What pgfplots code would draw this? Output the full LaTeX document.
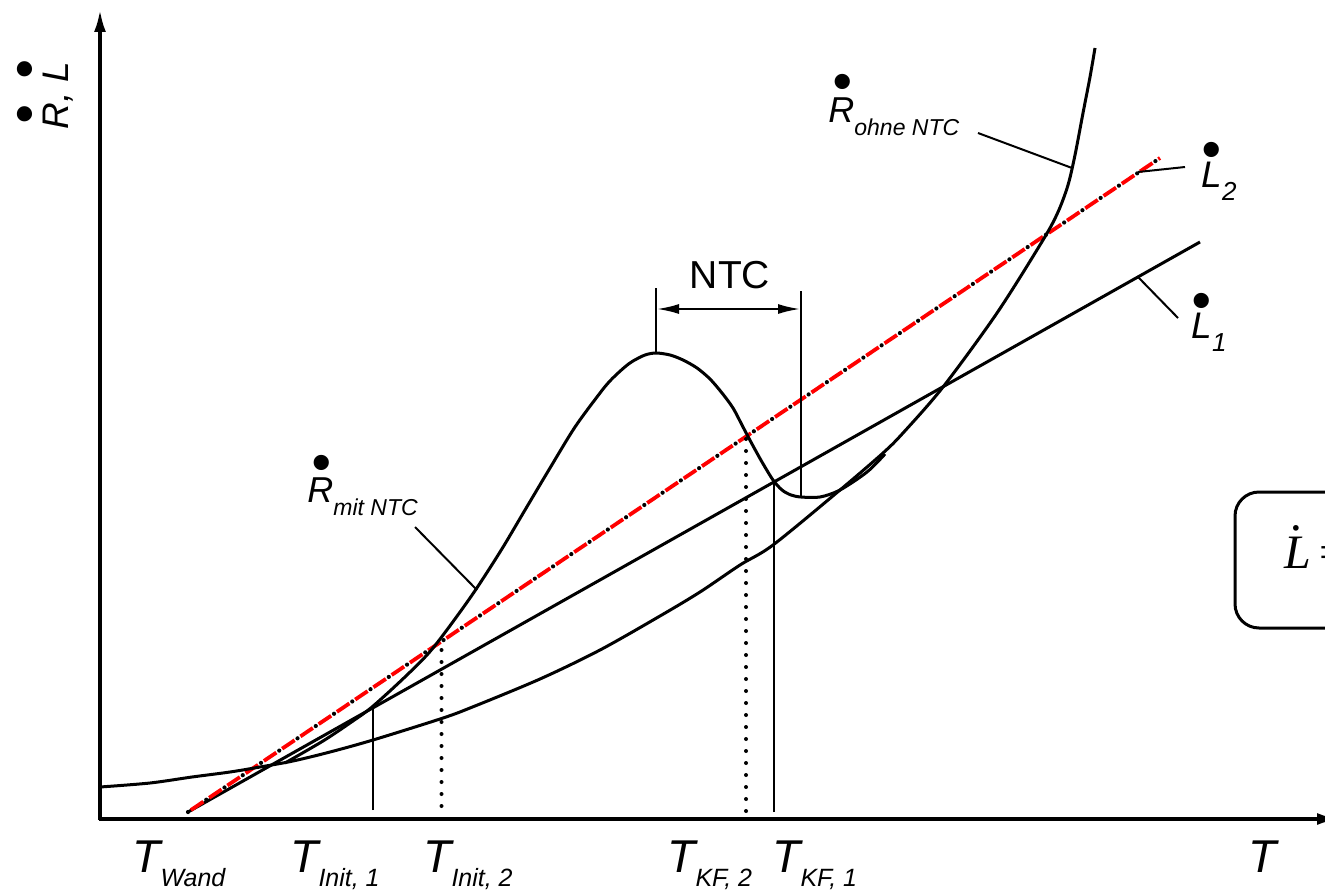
\documentclass[border=0pt]{standalone}
\usepackage{fontspec}
\setmainfont{Liberation Sans}
\newfontfamily\tnr{Liberation Serif}
\usepackage{pgfplots}
\pgfplotsset{compat=1.18}
\usetikzlibrary{arrows.meta}

\newcommand\fs[1]{\fontsize{#1}{#1}\selectfont}
% a heavy dot above a letter: #1 centre offset from the letter start, #2 raise, #3 letter
\newcommand\dotlet[3]{\leavevmode\rlap{\hspace*{#1}\raisebox{#2}{\makebox[0pt]{\fs{28pt}\textbullet}}}#3}

\begin{document}
\begin{tikzpicture}
\begin{axis}[name=ax, hide axis, scale only axis,
  width=662.5pt, height=445.5pt,
  xmin=-100, xmax=1225, ymin=-72, ymax=819, clip=false]

% coordinate axes
\addplot[line width=1.6pt, -{Latex[length=11pt,width=6pt]}] coordinates {(0,-1) (0,809)};
\addplot[line width=1.6pt, -{Latex[length=11pt,width=6pt]}] coordinates {(-1,0) (1239,0)};

% heat removal L1
\addplot[line width=1.5pt] coordinates {(88,7) (1100,577)};
% heat removal L2 (black dash-dot under red dashes)
\addplot[line width=2.1pt, line cap=round, dash pattern=on 0pt off 11pt] coordinates {(88,7) (1060,661)};
\addplot[red, line width=1.9pt, dash pattern=on 7.5pt off 3.5pt, dash phase=9.25pt] coordinates {(88,7) (1060,661)};

% heat production without NTC
\addplot[line width=1.5pt, smooth] coordinates {
(0,32) (50,36) (92,42) (130,47) (160,52) (193,58) (230,67) (273,79) (340,100)
(370,111) (440,140) (500,169) (560,203) (600,227) (640,254) (673,274) (740,329)
(783,366) (803,386) (843,432) (897,506) (943,579) (958,607) (968,634) (975,664)
(983,706) (990,742) (995,771)};

% heat production with NTC
\addplot[line width=1.5pt, smooth] coordinates {
(185,56) (223,78) (250,96) (272,112) (307,144) (333,171) (370,221) (400,267)
(425,309) (450,351) (475,392) (500,426) (509,437) (517,445) (526,453) (533,458)
(545,464) (556,466) (570,464) (583,459) (597,451) (610,440) (622,426) (633,411)
(643,392) (652,375) (662,357) (673,339) (682,329) (691,324) (701,322) (720,322)
(740,329) (767,347) (785,365)};

% characteristic temperatures
\addplot[line width=1pt] coordinates {(272.5,9) (272.5,111)};
\addplot[line width=2pt, line cap=round, dash pattern=on 0pt off 6pt] coordinates {(341.5,13) (341.5,177)};
\addplot[line width=2pt, line cap=round, dash pattern=on 0pt off 6pt] coordinates {(646,8) (646,383)};
\addplot[line width=1pt] coordinates {(674,7) (674,339)};

% NTC range
\addplot[line width=1pt] coordinates {(556,466) (556,531)};
\addplot[line width=1pt] coordinates {(701,322) (701,528)};
\addplot[line width=1pt, {Latex[length=11pt,width=5pt]}-{Latex[length=11pt,width=5pt]}] coordinates {(557,510) (700,510)};

% leaders
\addplot[line width=1pt] coordinates {(878,686) (972,651)};
\addplot[line width=1pt] coordinates {(315,292) (377,229)};
\addplot[line width=1pt] coordinates {(1038,647) (1085,652)};
\addplot[line width=1pt] coordinates {(1038,542) (1078,501)};

% labels
\node[rotate=90, anchor=base west, inner sep=0] at (axis cs:-32,689)
  {\fs{18.5pt}\itshape\dotlet{7.5pt}{12.5pt}{R}, \dotlet{6.5pt}{12.5pt}{L}};
\node[anchor=base west, inner sep=0] at (axis cs:728,696)
  {\itshape\fs{18pt}\dotlet{7pt}{11pt}{R}\raisebox{-6.5pt}{\fs{11.5pt}ohne NTC}};
\node[anchor=base west, inner sep=0] at (axis cs:207,317)
  {\itshape\fs{18pt}\dotlet{7pt}{10.5pt}{R}\raisebox{-6.5pt}{\fs{11.5pt}mit NTC}};
\node[anchor=base west, inner sep=0] at (axis cs:1101,632)
  {\itshape\fs{18.5pt}\dotlet{5pt}{9.5pt}{L}\raisebox{-6.5pt}{\fs{13pt}2}};
\node[anchor=base west, inner sep=0] at (axis cs:1091,481)
  {\itshape\fs{18.5pt}\dotlet{5pt}{9.5pt}{L}\raisebox{-6.5pt}{\fs{13pt}1}};
\node[anchor=base, inner sep=0] at (axis cs:630,531) {\fs{19.5pt}NTC};

\node[anchor=base west, inner sep=0] at (axis cs:32,-53)
  {\itshape\fs{23pt}T\raisebox{-7pt}{\fs{12.5pt}Wand}};
\node[anchor=base west, inner sep=0] at (axis cs:190,-53)
  {\itshape\fs{23pt}T\raisebox{-7pt}{\fs{12.5pt}Init, 1}};
\node[anchor=base west, inner sep=0] at (axis cs:323,-53)
  {\itshape\fs{23pt}T\raisebox{-7pt}{\fs{12.5pt}Init, 2}};
\node[anchor=base west, inner sep=0] at (axis cs:567,-53)
  {\itshape\fs{23pt}T\raisebox{-7pt}{\fs{12.5pt}KF, 2}};
\node[anchor=base west, inner sep=0] at (axis cs:672,-53)
  {\itshape\fs{23pt}T\raisebox{-7pt}{\fs{12.5pt}KF, 1}};
\node[anchor=base west, inner sep=0] at (axis cs:1148,-53)
  {\itshape\fs{23pt}T};

% equation box
\draw[line width=1.5pt, rounded corners=12pt] (axis cs:1135,191) rectangle (axis cs:1340,327);
\node[anchor=base west, inner sep=0] at (axis cs:1184,251)
  {\fs{24pt}\tnr\itshape\rlap{\hspace*{3.5pt}\raisebox{19pt}{.}}L\upshape\,=};
\end{axis}
\pgfresetboundingbox
\path[use as bounding box] (ax.south west) rectangle (ax.north east);
\end{tikzpicture}
\end{document}
